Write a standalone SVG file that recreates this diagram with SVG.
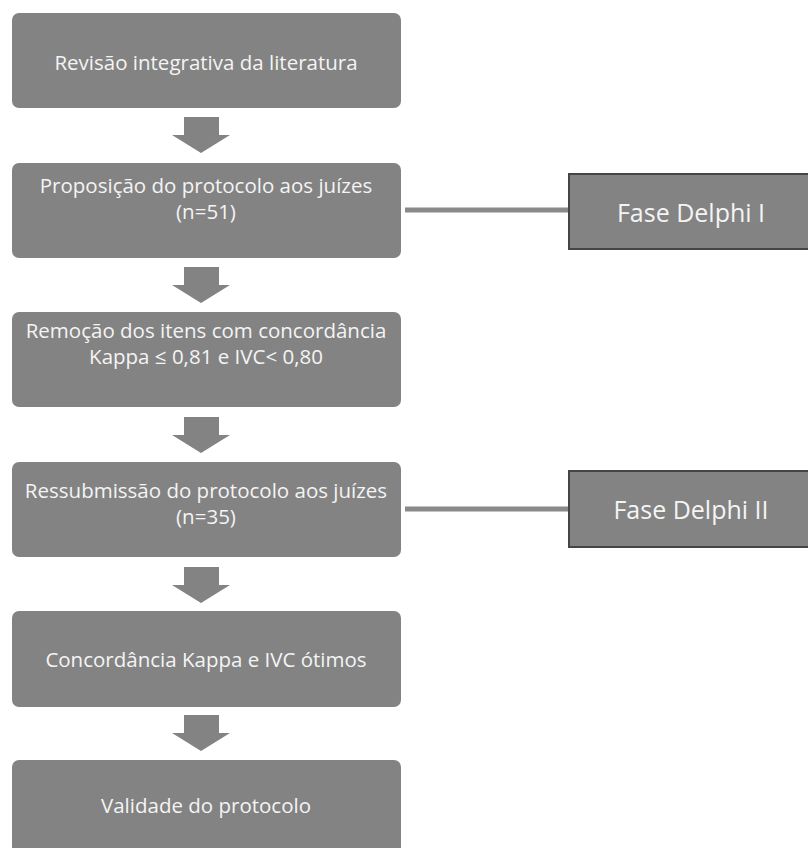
<svg xmlns="http://www.w3.org/2000/svg" width="808" height="848" viewBox="0 0 808 848">
<defs>
<style>
.box{fill:#838383;}
.phase{fill:#838383;stroke:#454545;stroke-width:2;}
.t{font-family:"Open Sans","Liberation Sans",sans-serif;font-size:20.5px;fill:#f4f4f4;text-anchor:middle;}
.tp{font-family:"Open Sans","Liberation Sans",sans-serif;font-size:25px;fill:#f4f4f4;text-anchor:middle;}
.arr{fill:#838383;}
.ln{stroke:#8a8a8a;stroke-width:5;fill:none;}
</style>
<path id="down" d="M-17,0 H18 V18 H29 L0,36 L-29,18 H-17 Z"/>
</defs>
<rect width="808" height="848" fill="#ffffff"/>
<g id="connectors">
<use href="#down" class="arr" x="201" y="117"/>
<use href="#down" class="arr" x="201" y="267"/>
<use href="#down" class="arr" x="201" y="417"/>
<use href="#down" class="arr" x="201" y="567"/>
<use href="#down" class="arr" x="201" y="715"/>
<line class="ln" x1="405" y1="210" x2="569" y2="210"/>
<line class="ln" x1="405" y1="509" x2="569" y2="509"/>
</g>
<g id="n1"><rect class="box" x="12" y="13" width="389" height="95" rx="7"/><text class="t" x="206" y="70">Revisão integrativa da literatura</text></g>
<g id="n2"><rect class="box" x="12" y="163" width="389" height="95" rx="7"/><text class="t" x="206" y="193">Proposição do protocolo aos juízes</text><text class="t" x="206" y="219">(n=51)</text></g>
<g id="n3"><rect class="box" x="12" y="312" width="389" height="95" rx="7"/><text class="t" x="206" y="338">Remoção dos itens com concordância</text><text class="t" x="206" y="364">Kappa ≤ 0,81 e IVC&lt; 0,80</text></g>
<g id="n4"><rect class="box" x="12" y="462" width="389" height="95" rx="7"/><text class="t" x="206" y="498">Ressubmissão do protocolo aos juízes</text><text class="t" x="206" y="524">(n=35)</text></g>
<g id="n5"><rect class="box" x="12" y="611" width="389" height="96" rx="7"/><text class="t" x="206" y="667">Concordância Kappa e IVC ótimos</text></g>
<g id="n6"><rect class="box" x="12" y="760" width="389" height="95" rx="7"/><text class="t" x="206" y="813">Validade do protocolo</text></g>
<g id="p1"><rect class="phase" x="569" y="174" width="245" height="75"/><text class="tp" x="691" y="222">Fase Delphi I</text></g>
<g id="p2"><rect class="phase" x="569" y="471" width="245" height="76"/><text class="tp" x="691" y="519">Fase Delphi II</text></g>
</svg>
